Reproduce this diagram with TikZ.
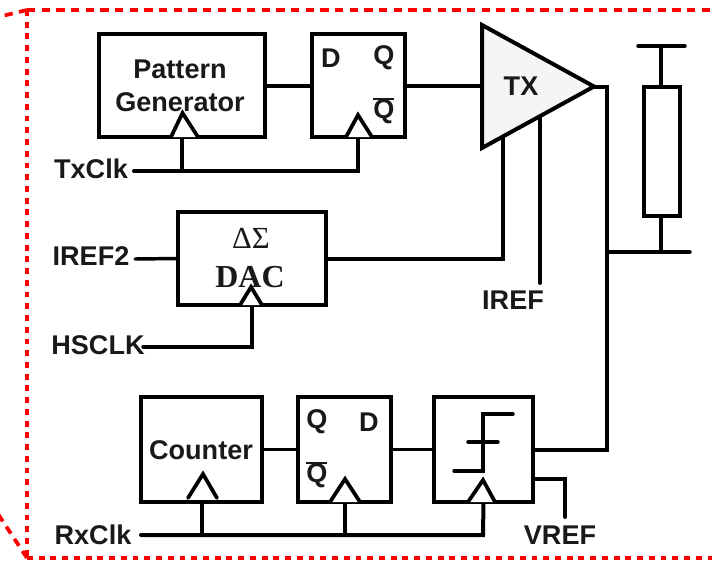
\documentclass[tikz,border=0pt]{standalone}
\usepackage{fontspec}
\setmainfont{Liberation Sans}
\newfontfamily\serifb{Liberation Serif}
\tikzset{
  x=0.75pt, y=-0.75pt,
  blk/.style={draw=black, line width=3pt, fill=white, rectangle, inner sep=0pt, outer sep=0pt, line join=miter},
  pxsize/.style 2 args={minimum width=#1*0.75pt, minimum height=#2*0.75pt},
  wire/.style={draw=black, line width=3pt, line join=miter, line cap=round},
  thinwire/.style={wire, line width=2.6pt},
  clk/.style={wire, line width=2.8pt, fill=white},
  txt/.style={font=\fontsize{20.3}{22}\selectfont\bfseries, text=black!90, inner sep=0pt, outer sep=0pt, anchor=center},
  sigtxt/.style={font=\fontsize{23}{25}\selectfont\serifb, text=black!90, inner sep=0pt},
  dactxt/.style={font=\fontsize{24}{26}\selectfont\serifb\bfseries, text=black!90, inner sep=0pt},
  border/.style={draw=red, line width=2.8pt},
  dashtop/.style={border, dash pattern=on 6.2pt off 4.8pt},
  dashside/.style={border, dash pattern=on 4.4pt off 4.4pt},
}
\newcommand{\qb}{\rlap{\raisebox{0.68em}{\rule{0.76em}{1.5pt}}}Q}
\begin{document}
\begin{tikzpicture}
\useasboundingbox (0,0) rectangle (712,560);
% dashed border
\coordinate (c1) at (27,10);
\coordinate (c2) at (27,558);
\coordinate (c3) at (715,10);
\coordinate (c4) at (715,558);
\coordinate (c5) at (-2,17);
\coordinate (c6) at (-2,514);
\draw[dashtop] (c1) -- (c3);
\draw[dashside] (c1) -- (c2);
\draw[dashside] (c2) -- (c4);
\draw[dashtop] (c1) -- (c5);
\draw[dashtop] (c2) -- (c6);

% blocks
\node[blk, pxsize={166}{103}] (pg) at (182,85.5) {};
\node[blk, pxsize={93}{103}] (ff1) at (358.5,85.5) {};
\node[blk, pxsize={148}{93}] (dac) at (252,258.5) {};
\node[blk, pxsize={121}{105}] (cnt) at (201.5,449.5) {};
\node[blk, pxsize={93}{105}] (ff2) at (344.5,449.5) {};
\node[blk, pxsize={99}{105}] (sch) at (483.5,449.5) {};
\node[blk, pxsize={36}{129}] (res) at (662,151.5) {};

% TX triangle
\node[rectangle, inner sep=0pt, outer sep=0pt, pxsize={112}{123}] (tx) at (538,86.5) {};
\draw[wire, fill=black!4, line width=3pt] (tx.north west) -- (tx.east) -- (tx.south west) -- cycle;

% named free ends
\coordinate (txclk) at (134,171);
\coordinate (iref2) at (135,259);
\coordinate (hsclk) at (143,347);
\coordinate (rxclk) at (141,535);
\coordinate (irefin) at (540,118);
\coordinate (irefend) at (540,283);
\coordinate (txbias) at (503,137);
\coordinate (outx) at (607,86.5);
\coordinate (vrefa) at (533,479);
\coordinate (vrefb) at (565,517);
\coordinate (rtop) at (661,46);
\coordinate (rbot) at (661,252);
\coordinate (rtl) at (638,46);
\coordinate (rtr) at (685,46);
\coordinate (rbr) at (690,252);

% connectors
\draw[wire] (pg.east) -- (ff1.west);
\draw[wire] (ff1.east) -- (tx.west |- ff1.east);
\draw[wire] (txclk) -- (358,171) -- (358,137);
\draw[wire] (182,171) -- (182,137);
\draw[thinwire] (iref2) -- (dac.west);
\draw[wire] (dac.east) -- (txbias |- dac.east) -- (txbias);
\draw[wire] (irefin) -- (irefend);
\draw[thinwire] (hsclk) -- (252,347) -- (dac.south);
\draw[wire] (tx.east) -- (outx) |- (sch.east);
\draw[thinwire] (cnt.east) -- (ff2.west);
\draw[thinwire] (ff2.east) -- (sch.west);
\draw[wire] (rxclk) -- (483,535) -- (sch.south);
\draw[wire] (cnt.south) -- (cnt.south |- rxclk);
\draw[wire] (ff2.south) -- (ff2.south |- rxclk);
\draw[wire] (vrefa) -| (vrefb);
\draw[thinwire] (rtl) -- (rtr);
\draw[thinwire] (rtop) -- (res.north -| rtop);
\draw[thinwire] (res.south -| rbot) -- (rbot);
\draw[thinwire] (outx |- rbot) -- (rbr);

% clock triangles
\draw[clk] (171,137) -- (182.5,113) -- (198,137);
\draw[clk] (346,137) -- (358,115) -- (372,137);
\draw[clk] (240,305) -- (251,287) -- (262,305);
\draw[clk] (188,498) -- (203,474) -- (217,498);
\draw[clk] (330,502) -- (345,479) -- (360,502);
\draw[clk] (468,502) -- (483,480) -- (495,502);

% hysteresis symbol
\draw[thinwire] (513,414) -- (483,414) -- (483,471) -- (454,471);
\draw[thinwire] (468,442) -- (498,442);

% texts
\node[txt] (t1) at (180,69) {Pattern};
\node[txt] (t2) at (180,102) {Generator};
\node[txt] (t3) at (331,58) {D};
\node[txt] (t4) at (384,58) {Q};
\node[txt] (t5) at (384,111) {\qb};
\node[txt] (t6) at (521,86) {TX};
\node[sigtxt] (t7) at (251,238) {ΔΣ};
\node[dactxt] (t8) at (250,277) {DAC};
\node[txt] (t9) at (91,169) {TxClk};
\node[txt] (t10) at (91,256) {IREF2};
\node[txt] (t11) at (98,345) {HSCLK};
\node[txt] (t12) at (93,535) {RxClk};
\node[txt] (t13) at (513,300) {IREF};
\node[txt] (t14) at (560,535) {VREF};
\node[txt] (t15) at (201,450) {Counter};
\node[txt] (t16) at (317,422) {Q};
\node[txt] (t17) at (369,422) {D};
\node[txt] (t18) at (317,475) {\qb};
\end{tikzpicture}
\end{document}
